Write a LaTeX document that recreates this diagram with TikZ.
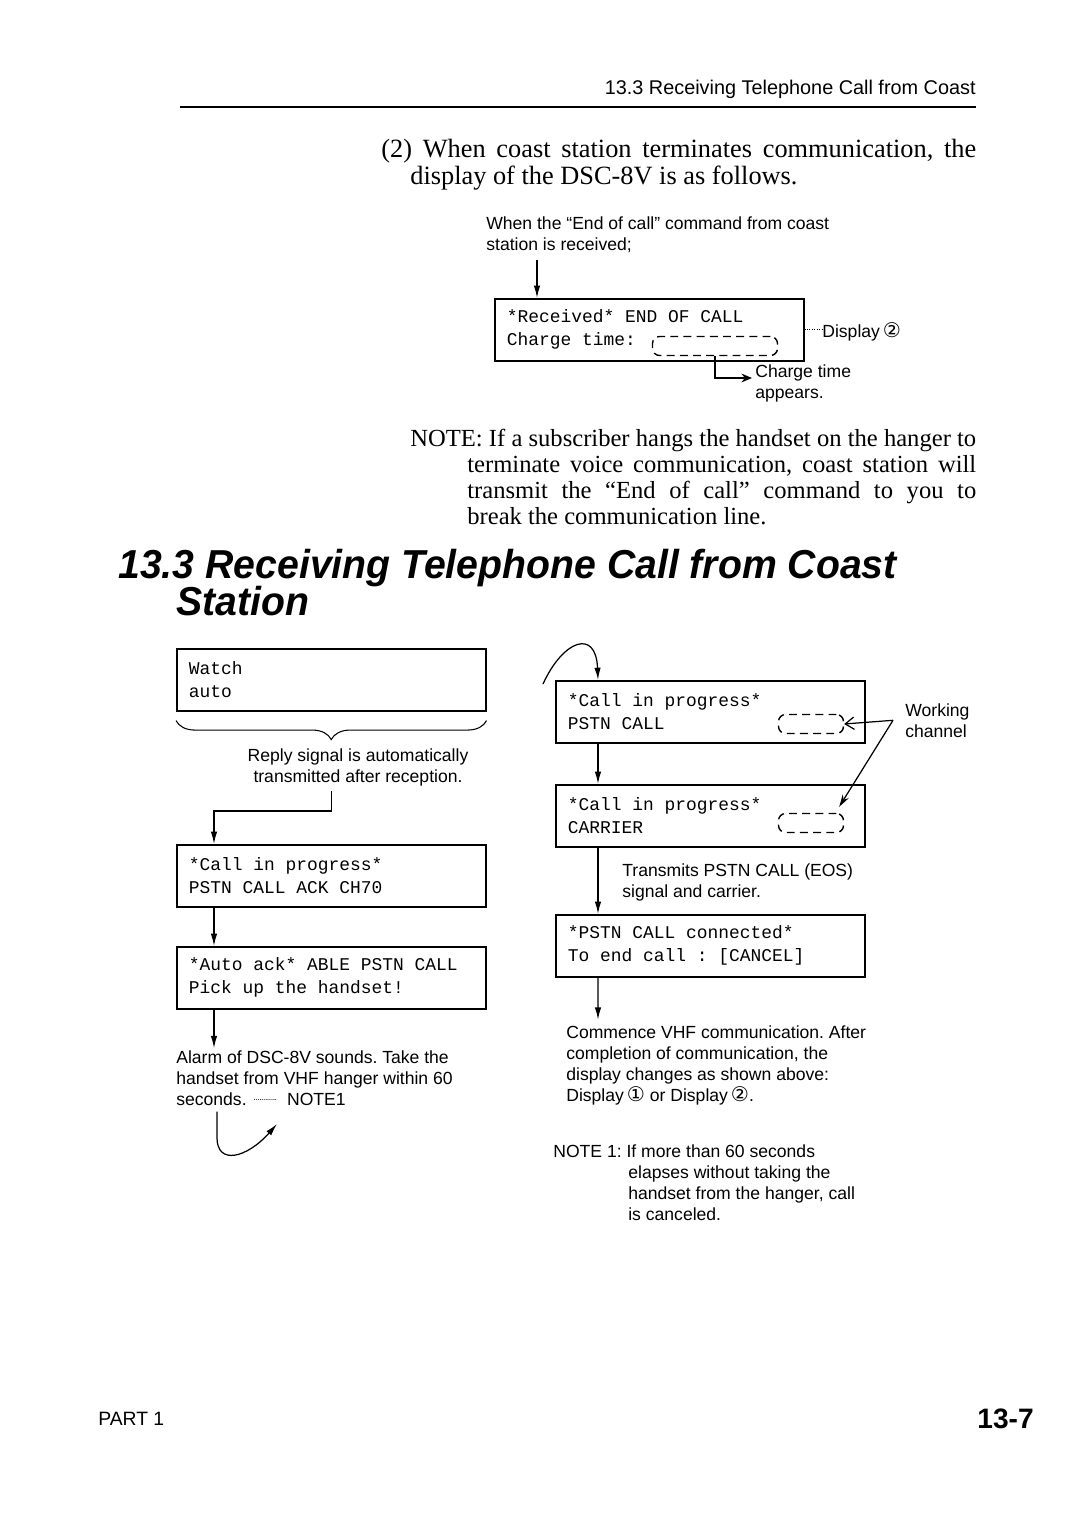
\documentclass[tikz,border=0pt]{standalone}
\usepackage{fontspec}
\setmainfont{Liberation Serif}
\setsansfont{Liberation Sans}
\setmonofont{Liberation Mono}
\newfontfamily\symfont{DejaVu Sans}
\newfontfamily\headfont[FakeStretch=0.97]{Liberation Sans}
\usetikzlibrary{positioning,arrows.meta,calc,decorations.pathreplacing}
\newcommand\lcdfont{\ttfamily\fontsize{10.2}{13.1}\selectfont}
\newcommand\circnum[1]{{\symfont\fontsize{11.5}{12}\selectfont#1}}
\frenchspacing

\begin{document}
\begin{tikzpicture}[x=0.02cm,y=-0.02cm,
  every node/.style={inner sep=0pt},
  lcd/.style={draw,line width=0.9pt,anchor=north west,inner xsep=0.24cm,
    text width=5.7cm,minimum height=1.24cm,align=flush left,font=\lcdfont},
  chan/.style={draw,dash pattern=on 4.5pt off 3pt,line width=0.8pt,
    rounded corners=4pt,minimum height=0.38cm},
  lbl/.style={anchor=north west,align=left,font=\sffamily\fontsize{10}{11.95}\selectfont},
  body/.style={anchor=north west,align=left,font=\fontsize{15}{15.4}\selectfont},
  arr/.style={line width=0.7pt,-{Latex[length=7pt,width=3.6pt]}}]
\useasboundingbox (0,0) rectangle (1080,1528);
\fill[white] (0,0) rectangle (1080,1528);

% running head
\node[anchor=base east,font=\sffamily\fontsize{11.3}{13}\selectfont] (runhead) at (976,94) {13.3 Receiving Telephone Call from Coast};
\draw[line width=1.1pt] (180,107) -- (976,107);

% end of call display
\node[body] (intro) at (381,139) {\makebox[11.9cm][s]{(2) When coast station terminates communication, the}\\
  \hspace*{0.58cm}display of the DSC-8V is as follows.};
\node[lbl] (endlbl) at (486,216) {When the “End of call” command from coast\\station is received;};
\node[lcd] (rx) at (494,298) {*Received* END OF CALL\\Charge time:};
\node[chan,minimum width=2.5cm] (ct) at (715,346) {};
\coordinate (rxin) at ([xshift=.86cm]rx.north west);
\draw[arr,shorten <=4pt] (endlbl.south -| rxin) -- (rxin);
\node[anchor=base west,font=\sffamily\fontsize{10}{12}\selectfont] (disp) at (822,337) {Display\,\circnum{②}};
\draw[densely dotted,line width=0.4pt] (rx.east) -- (rx.east -| disp.west);
\node[lbl] (ctlbl) at (755,364) {Charge time\\appears.};
\draw[line width=0.7pt,-{Stealth[length=6pt,width=5pt]}] (ct.south) |- ([xshift=-.06cm,yshift=-.28cm]ctlbl.north west);

\node[body,font=\fontsize{14}{14.8}\selectfont] (note) at (410,429) {\makebox[11.32cm][s]{NOTE: If a subscriber hangs the handset on the hanger to}\\
  \hspace*{1.14cm}\makebox[10.18cm][s]{terminate voice communication, coast station will}\\
  \hspace*{1.14cm}\makebox[10.18cm][s]{transmit the “End of call” command to you to}\\
  \hspace*{1.14cm}break the communication line.};

% section title
\node[anchor=north west,align=left,font=\headfont\bfseries\itshape\fontsize{23}{18.8}\selectfont] (head) at (118,549) {13.3 Receiving Telephone Call from Coast\\[-1.5pt]\hspace*{1.16cm}Station};

% left column
\node[lcd] (watch) at (176,648) {Watch\\auto};
\draw[decorate,decoration={brace,mirror,amplitude=.38cm},line width=0.6pt] ([yshift=-.18cm]watch.south west) -- ([yshift=-.18cm]watch.south east);
\node[lbl,anchor=north,align=center] (reply) at (358,748) {Reply signal is automatically\\transmitted after reception.};
\node[lcd] (ack1) at (176,844) {*Call in progress*\\PSTN CALL ACK CH70};
\draw[arr,shorten <=3pt] (reply.south -| watch.south) -- ++(0,25) -| ([xshift=.76cm]ack1.north west);
\node[lcd] (able) at (176,946) {*Auto ack* ABLE PSTN CALL\\Pick up the handset!};
\draw[arr] ([xshift=.76cm]ack1.south west) -- ([xshift=.76cm]able.north west);
\node[lbl] (alarm) at (176,1050) {Alarm of DSC-8V sounds. Take the\\handset from VHF hanger within 60\\seconds.\hspace{4pt}\raisebox{2.6pt}{\hbox to 14pt{\tiny\leaders\hbox to 1.1pt{\hss.\hss}\hfill}}\hspace{5pt}NOTE1};
\draw[arr,shorten >=1pt] ([xshift=.76cm]able.south west) -- ([xshift=.76cm]alarm.north west);
\coordinate (hookend) at (277,1124);
\draw[arr] ([xshift=.82cm,yshift=-.12cm]alarm.south west) -- ++(0,26) .. controls +(0,28) and +(-30,34) .. (hookend);

% right column
\coordinate (loopin) at (543,684);
\node[lcd] (cip1) at (555,680) {*Call in progress*\\PSTN CALL};
\node[chan,minimum width=1.3cm] (ch1) at (811,724) {};
\draw[arr] (loopin) .. controls (563,640) and (596,628) .. ([xshift=.86cm]cip1.north west);
\node[lcd] (cip2) at (555,784) {*Call in progress*\\CARRIER};
\node[chan,minimum width=1.3cm] (ch2) at (811,823) {};
\draw[arr] ([xshift=.86cm]cip1.south west) -- ([xshift=.86cm]cip2.north west);
\node[lbl] (wlbl) at (905,703) {Working\\channel};
\coordinate (wc) at ([xshift=-.24cm]wlbl.west);
\draw[line width=0.7pt,-{Straight Barb[length=5pt,width=7pt]}] (wc) -- (ch1.east);
\draw[line width=0.7pt,-{Stealth[length=7pt,width=4pt]}] (wc) -- ([xshift=-.1cm,yshift=.12cm]ch2.north east);
\node[lcd] (conn) at (555,914) {*PSTN CALL connected*\\To end call : [CANCEL]};
\draw[arr] ([xshift=.86cm]cip2.south west) -- ([xshift=.86cm]conn.north west);
\node[lbl] (eos) at (622,863) {Transmits PSTN CALL (EOS)\\signal and carrier.};
\node[lbl] (commence) at (566,1025) {Commence VHF communication. After\\completion of communication, the\\display changes as shown above:\\Display\,\circnum{①} or Display\,\circnum{②}.};
\draw[arr,shorten >=3pt] ([xshift=.86cm]conn.south west) -- ([xshift=.64cm]commence.north west);
\node[lbl] (note1) at (553,1144) {NOTE 1: If more than 60 seconds\\\hspace*{1.5cm}elapses without taking the\\\hspace*{1.5cm}handset from the hanger, call\\\hspace*{1.5cm}is canceled.};

% page foot
\node[anchor=base west,font=\sffamily\fontsize{11}{12}\selectfont] (part) at (98,1425) {PART 1};
\node[anchor=base east,font=\sffamily\bfseries\fontsize{16}{18}\selectfont] (pageno) at (1034,1428) {13-7};
\end{tikzpicture}
\end{document}
